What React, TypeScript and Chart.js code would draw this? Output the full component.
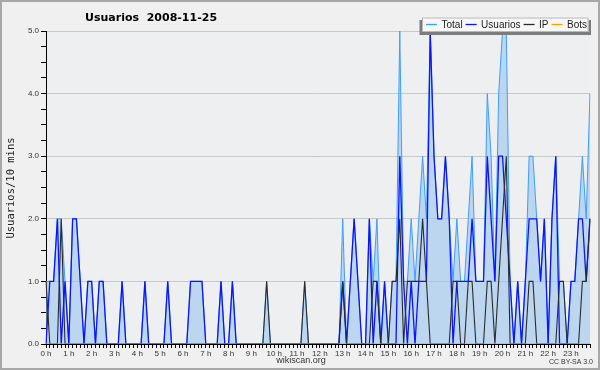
import React, { useEffect, useRef } from "react";
import { Chart, registerables } from "chart.js";

Chart.register(...registerables);

// 10-minute slots over the day (144 categories)
const CATEGORIES: string[] = Array.from({ length: 144 }, (_, i) =>
  `${String(Math.floor(i / 6)).padStart(2, "0")}:${i % 6}0`
);

const HOUR_LABELS = [
  "0 h", "1 h", "2 h", "3 h", "4 h", "5 h", "6 h", "7 h", "8 h", "9 h", "10 h", "11 h",
  "12 h", "13 h", "14 h", "15 h", "16 h", "17 h", "18 h", "19 h", "20 h", "21 h", "22 h", "23 h",
];

const TOTAL = [
  1, 1, 1, 2, 2, 1, 0, 2, 2, 1, 0, 1,
  1, 0, 1, 1, 0, 0, 0, 0, 1, 0, 0, 0,
  0, 0, 1, 0, 0, 0, 0, 0, 1, 0, 0, 0,
  0, 0, 1, 1, 1, 1, 0, 0, 0, 0, 1, 0,
  0, 1, 0, 0, 0, 0, 0, 0, 0, 0, 1, 0,
  0, 0, 0, 0, 0, 0, 0, 0, 1, 0, 0, 0,
  0, 0, 0, 0, 0, 0, 2, 0, 1, 2, 1, 0,
  0, 2, 1, 2, 0, 1, 0, 1, 1, 5, 1, 1,
  2, 1, 2, 3, 2, 5, 3, 2, 2, 3, 2, 1,
  2, 1, 1, 2, 3, 1, 1, 1, 4, 3, 1, 4,
  5, 5, 1, 0, 1, 0, 1, 3, 3, 2, 1, 2,
  0, 2, 3, 1, 1, 0, 1, 1, 2, 3, 2, 4,
];

const USUARIOS = [
  0, 1, 1, 2, 0, 1, 0, 2, 2, 1, 0, 1,
  1, 0, 1, 1, 0, 0, 0, 0, 1, 0, 0, 0,
  0, 0, 1, 0, 0, 0, 0, 0, 1, 0, 0, 0,
  0, 0, 1, 1, 1, 1, 0, 0, 0, 0, 1, 0,
  0, 1, 0, 0, 0, 0, 0, 0, 0, 0, 0, 0,
  0, 0, 0, 0, 0, 0, 0, 0, 0, 0, 0, 0,
  0, 0, 0, 0, 0, 0, 1, 0, 1, 2, 1, 0,
  0, 2, 0, 1, 0, 1, 0, 0, 0, 3, 1, 0,
  1, 0, 1, 1, 1, 5, 3, 2, 2, 3, 2, 0,
  1, 1, 1, 1, 2, 1, 1, 1, 3, 2, 1, 3,
  3, 2, 1, 0, 1, 0, 1, 2, 2, 2, 1, 2,
  0, 2, 3, 0, 0, 0, 1, 1, 2, 2, 1, 2,
];

const IP = [
  1, 0, 0, 0, 2, 0, 0, 0, 0, 0, 0, 0,
  0, 0, 0, 0, 0, 0, 0, 0, 0, 0, 0, 0,
  0, 0, 0, 0, 0, 0, 0, 0, 0, 0, 0, 0,
  0, 0, 0, 0, 0, 0, 0, 0, 0, 0, 0, 0,
  0, 0, 0, 0, 0, 0, 0, 0, 0, 0, 1, 0,
  0, 0, 0, 0, 0, 0, 0, 0, 1, 0, 0, 0,
  0, 0, 0, 0, 0, 0, 1, 0, 0, 0, 0, 0,
  0, 0, 1, 1, 0, 0, 0, 1, 1, 2, 0, 1,
  1, 1, 1, 2, 1, 0, 0, 0, 0, 0, 0, 1,
  1, 0, 0, 1, 1, 0, 0, 0, 1, 1, 0, 1,
  2, 3, 0, 0, 0, 0, 0, 1, 1, 0, 0, 0,
  0, 0, 0, 1, 1, 0, 0, 0, 0, 1, 1, 2,
];

const BOTS = [
  0, 0, 0, 0, 0, 0, 0, 0, 0, 0, 0, 0,
  0, 0, 0, 0, 0, 0, 0, 0, 0, 0, 0, 0,
  0, 0, 0, 0, 0, 0, 0, 0, 0, 0, 0, 0,
  0, 0, 0, 0, 0, 0, 0, 0, 0, 0, 0, 0,
  0, 0, 0, 0, 0, 0, 0, 0, 0, 0, 0, 0,
  0, 0, 0, 0, 0, 0, 0, 0, 0, 0, 0, 0,
  0, 0, 0, 0, 0, 0, 0, 0, 0, 0, 0, 0,
  0, 0, 0, 0, 0, 0, 0, 0, 0, 0, 0, 0,
  0, 0, 0, 0, 0, 0, 0, 0, 0, 0, 0, 0,
  0, 0, 0, 0, 0, 0, 0, 0, 0, 0, 0, 0,
  0, 0, 0, 0, 0, 0, 0, 0, 0, 0, 0, 0,
  0, 0, 0, 0, 0, 0, 0, 0, 0, 0, 0, 0,
];

const TITLE = "Usuarios  2008-11-25";
const Y_TITLE = "Usuarios/10 mins";
const FOOTER = "wikiscan.org";
const LICENSE = "CC BY-SA 3.0";

const COLORS = {
  total: "#3d9eff",
  totalFill: "rgba(150,196,236,0.58)",
  usuarios: "#0a14ff",
  ip: "#2b2b2b",
  bots: "#ff9c00",
};

const decorPlugin = {
  id: "decor",
  beforeDraw(chart: any) {
    const { ctx, chartArea: a, width, height } = chart;
    ctx.save();
    ctx.fillStyle = "#f0f0f0";
    ctx.fillRect(0, 0, width, height);
    ctx.fillStyle = "#eeeff1";
    ctx.fillRect(a.left, a.top, a.right - a.left, a.bottom - a.top);
    ctx.restore();
  },
  afterDatasetsDraw(chart: any) {
    const { ctx, chartArea: a } = chart;
    ctx.save();
    ctx.strokeStyle = "#000";
    ctx.lineWidth = 1;
    ctx.beginPath();
    ctx.moveTo(a.left, Math.round(a.bottom) + 0.5);
    ctx.lineTo(a.right, Math.round(a.bottom) + 0.5);
    ctx.stroke();
    ctx.restore();
  },
  afterDraw(chart: any) {
    const { ctx, width, height } = chart;
    ctx.save();
    // outer border
    ctx.strokeStyle = "#a8a8a8";
    ctx.lineWidth = 2;
    ctx.strokeRect(1, 1, width - 2, height - 2);

    // title
    ctx.fillStyle = "#000";
    ctx.font = 'bold 11px "DejaVu Sans"';
    ctx.textAlign = "left";
    ctx.textBaseline = "alphabetic";
    ctx.fillText(TITLE, 85, 21);

    // y axis title
    ctx.save();
    ctx.translate(11, 188);
    ctx.rotate(-Math.PI / 2);
    ctx.font = '10.5px "DejaVu Sans Mono"';
    ctx.textAlign = "center";
    ctx.textBaseline = "middle";
    ctx.fillStyle = "#222";
    ctx.fillText(Y_TITLE, 0, 0);
    ctx.restore();

    // footer
    ctx.font = '9px "Liberation Sans"';
    ctx.fillStyle = "#333";
    ctx.textAlign = "center";
    ctx.textBaseline = "middle";
    ctx.fillText(FOOTER, 301, 361);
    ctx.font = '7px "Liberation Sans"';
    ctx.textAlign = "right";
    ctx.fillText(LICENSE, 593, 362);

    // legend box
    const bx = 422, by = 17.5, bw = 166.5, bh = 14.5;
    ctx.fillStyle = "#7c7c7c";
    ctx.fillRect(bx - 2.5, by + 2.5, bw + 5, bh + 0.5);
    ctx.fillStyle = "#f7f7f7";
    ctx.fillRect(bx, by, bw, bh);
    ctx.strokeStyle = "#b8b8b8";
    ctx.lineWidth = 1;
    ctx.strokeRect(bx + 0.5, by + 0.5, bw - 1, bh - 1);

    ctx.font = '10px "Liberation Sans"';
    ctx.textAlign = "left";
    ctx.textBaseline = "alphabetic";
    let x = 426;
    chart.data.datasets.forEach((ds: any) => {
      ctx.strokeStyle = ds.borderColor;
      ctx.lineWidth = 1.3;
      ctx.beginPath();
      ctx.moveTo(x, 24.5);
      ctx.lineTo(x + 11, 24.5);
      ctx.stroke();
      ctx.fillStyle = "#222";
      const tx = x + 15.5;
      ctx.fillText(ds.label, tx, 28.3);
      x = tx + ctx.measureText(ds.label).width + 3;
    });
    ctx.restore();
  },
};

export default function App() {
  const ref = useRef<HTMLCanvasElement | null>(null);

  useEffect(() => {
    document.body.style.margin = "0";
    if (!ref.current) return;
    const chart = new Chart(ref.current, {
      type: "line",
      data: {
        labels: CATEGORIES,
        datasets: [
          {
            label: "Total",
            data: TOTAL,
            borderColor: COLORS.total,
            backgroundColor: COLORS.totalFill,
            fill: "origin",
            borderWidth: 1,
            pointRadius: 0,
            tension: 0,
            order: 3,
          },
          {
            label: "Usuarios",
            data: USUARIOS,
            borderColor: COLORS.usuarios,
            backgroundColor: COLORS.usuarios,
            fill: false,
            borderWidth: 1.3,
            pointRadius: 0,
            tension: 0,
            order: 2,
          },
          {
            label: "IP",
            data: IP,
            borderColor: COLORS.ip,
            backgroundColor: COLORS.ip,
            fill: false,
            borderWidth: 1.1,
            pointRadius: 0,
            tension: 0,
            order: 1,
          },
          {
            label: "Bots",
            data: BOTS,
            borderColor: COLORS.bots,
            backgroundColor: COLORS.bots,
            fill: false,
            borderWidth: 1,
            pointRadius: 0,
            tension: 0,
            order: 0,
          },
        ],
      },
      options: {
        responsive: false,
        animation: false,
        devicePixelRatio: 1,
        layout: { padding: { left: 0, right: 10, top: 31, bottom: 0 } },
        plugins: {
          legend: { display: false },
          tooltip: { enabled: false },
          title: { display: false },
        },
        scales: {
          x: {
            type: "category",
            grid: {
              drawOnChartArea: false,
              drawTicks: true,
              tickLength: 4,
              tickColor: "#000",
              color: "#000",
            },
            border: { display: true, color: "#000", width: 1 },
            ticks: {
              autoSkip: false,
              maxRotation: 0,
              minRotation: 0,
              padding: 1,
              color: "#333",
              font: { family: "Liberation Sans", size: 8 },
              callback: (_v: any, i: number) => (i % 6 === 0 ? HOUR_LABELS[i / 6] : ""),
            },
            afterFit: (s: any) => {
              s.height = 26;
            },
          },
          y: {
            min: 0,
            max: 5,
            grid: {
              color: (c: any) =>
                c.tick && Number.isInteger(c.tick.value) ? "#c8c8c8" : "rgba(0,0,0,0)",
              tickColor: "#000",
              tickLength: 5,
              lineWidth: 1,
            },
            border: { display: true, color: "#000", width: 1 },
            ticks: {
              stepSize: 0.25,
              maxTicksLimit: 100,
              autoSkip: false,
              padding: 2,
              color: "#333",
              font: { family: "Liberation Sans", size: 8 },
              callback: (v: any) => (Number.isInteger(v) ? Number(v).toFixed(1) : ""),
            },
            afterFit: (s: any) => {
              s.width = 46;
            },
          },
        },
      },
      plugins: [decorPlugin],
    });
    return () => chart.destroy();
  }, []);

  return <canvas ref={ref} width={600} height={370} style={{ display: "block" }} />;
}
